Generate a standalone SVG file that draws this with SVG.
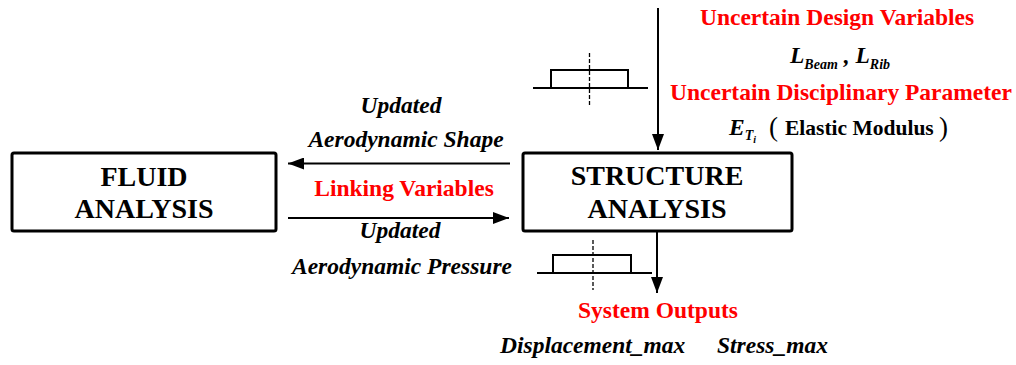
<svg xmlns="http://www.w3.org/2000/svg" width="1016" height="365" viewBox="0 0 1016 365">
<style>
.box{fill:#fff;stroke:#000;stroke-width:3}
.ln{stroke:#000;stroke-width:2;fill:none}
.dash{stroke:#000;stroke-width:1.3;stroke-dasharray:4 2;fill:none}
.big{font-family:"Liberation Serif","Times New Roman",serif;font-weight:bold;font-size:28px;fill:#000;text-anchor:middle}
.red{font-family:"Liberation Serif","Times New Roman",serif;font-weight:bold;font-size:23.5px;fill:#ff0000;text-anchor:middle}
.it{font-family:"Liberation Serif","Times New Roman",serif;font-weight:bold;font-style:italic;font-size:23.5px;fill:#000}
.bk{font-family:"Liberation Serif","Times New Roman",serif;font-weight:bold;font-size:21.5px;fill:#000}
.rg{font-family:"Liberation Serif","Times New Roman",serif;font-size:27px;fill:#000}
</style>
<defs>
<marker id="ah" viewBox="0 0 16 12" refX="16" refY="6" markerWidth="16" markerHeight="12" markerUnits="userSpaceOnUse" orient="auto">
<path d="M0,0 L16,6 L0,12 Z" fill="#000"/>
</marker>
</defs>

<g id="connectors">
<line class="ln" x1="510" y1="163.5" x2="288" y2="163.5" marker-end="url(#ah)"/>
<line class="ln" x1="288" y1="218" x2="509" y2="218" marker-end="url(#ah)"/>
<line class="ln" x1="658" y1="8" x2="658" y2="150" marker-end="url(#ah)"/>
<line class="ln" x1="657" y1="231" x2="657" y2="293" marker-end="url(#ah)"/>
</g>

<g id="fluid">
<rect class="box" x="12" y="153" width="264" height="78" rx="2"/>
<text class="big" x="144" y="186">FLUID</text>
<text class="big" x="144" y="218">ANALYSIS</text>
</g>

<g id="structure">
<rect class="box" x="523" y="153" width="269" height="78" rx="2"/>
<text class="big" x="657" y="185">STRUCTURE</text>
<text class="big" x="657" y="218">ANALYSIS</text>
</g>

<g id="symbol-top">
<rect class="ln" x="551" y="70" width="77" height="18"/>
<line class="ln" x1="533" y1="88" x2="648" y2="88"/>
<line class="dash" x1="589.5" y1="53" x2="589.5" y2="105"/>
</g>

<g id="symbol-bottom">
<rect class="ln" x="553" y="255" width="78" height="18"/>
<line class="ln" x1="537" y1="273" x2="652" y2="273"/>
<line class="dash" x1="593" y1="240" x2="593" y2="290"/>
</g>

<g id="design-variables">
<text class="red" x="837" y="25">Uncertain Design Variables</text>
<text class="it" x="790" y="63">L<tspan font-size="14" dy="6">Beam</tspan><tspan dy="-6"> , L</tspan><tspan font-size="14" dy="6">Rib</tspan></text>
<text class="red" x="841" y="100">Uncertain Disciplinary Parameter</text>
<text class="it" x="729" y="135">E<tspan font-size="14" dy="5">T</tspan><tspan font-size="10" dy="3">i</tspan></text>
<text class="rg" x="769" y="136">(</text>
<text class="bk" x="785" y="135">Elastic Modulus</text>
<text class="rg" x="939" y="136">)</text>
</g>

<g id="linking">
<text class="it" x="401" y="113" text-anchor="middle">Updated</text>
<text class="it" x="406" y="147" text-anchor="middle">Aerodynamic Shape</text>
<text class="red" x="404" y="196">Linking Variables</text>
<text class="it" x="400" y="238" text-anchor="middle">Updated</text>
<text class="it" x="402" y="274" text-anchor="middle">Aerodynamic Pressure</text>
</g>

<g id="outputs">
<text class="red" x="658" y="318">System Outputs</text>
<text class="it" x="500" y="353">Displacement_max</text>
<text class="it" x="717" y="353">Stress_max</text>
</g>
</svg>
